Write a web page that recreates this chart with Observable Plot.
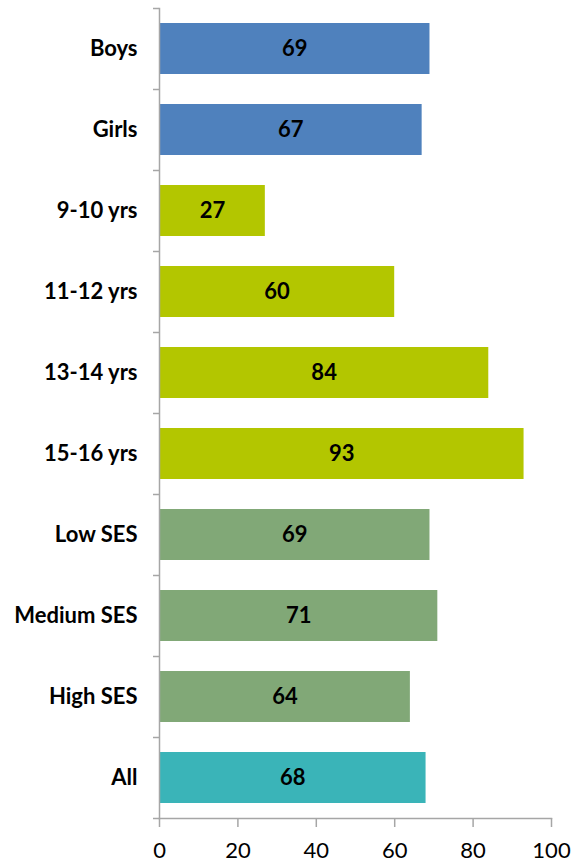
<!DOCTYPE html>
<html>
<head>
<meta charset="utf-8">
<script src="https://cdn.jsdelivr.net/npm/d3@7"></script>
<script src="https://cdn.jsdelivr.net/npm/@observablehq/plot@0.6"></script>
<style>
  html, body { margin: 0; padding: 0; background: #fff; }
</style>
</head>
<body>
<div id="chart"></div>
<script>
const categories = ["Boys", "Girls", "9-10 yrs", "11-12 yrs", "13-14 yrs", "15-16 yrs", "Low SES", "Medium SES", "High SES", "All"];
const values = [69, 67, 27, 60, 84, 93, 69, 71, 64, 68];
const groups = ["gender", "gender", "age", "age", "age", "age", "ses", "ses", "ses", "all"];
const groupNames = ["gender", "age", "ses", "all"];
const groupColors = ["#4F81BD", "#B3C600", "#81A877", "#3AB4B8"];
const xTicks = [0, 20, 40, 60, 80, 100];

const data = categories.map((c, i) => ({category: c, value: values[i], group: groups[i]}));

const W = 581, H = 866;
const mT = 8, mB = 48;
const step = (H - mT - mB) / categories.length;
const axisColor = "#A6A6A6";

const chart = Plot.plot({
  width: W,
  height: H,
  marginLeft: 159,
  marginRight: 30,
  marginTop: mT,
  marginBottom: mB,
  style: {fontFamily: "Lato, sans-serif", color: "#000", background: "#fff"},
  x: {domain: [0, 100], ticks: xTicks, label: null},
  y: {domain: categories, paddingInner: 0.37, paddingOuter: 0.185, label: null},
  color: {domain: groupNames, range: groupColors},
  marks: [
    Plot.barX(data, {x: "value", y: "category", fill: "group"}),
    Plot.text(data, {x: d => d.value / 2, y: "category", text: d => String(d.value), fontSize: 22, fontWeight: "bold", fill: "#000"}),
    Plot.axisY({tickSize: 0, tickPadding: 22, fontSize: 22, fontWeight: "bold", fill: "#000", label: null}),
    Plot.axisY({text: null, tickSize: 6, dy: -step / 2, stroke: axisColor, strokeWidth: 1.5, strokeOpacity: 1, label: null}),
    Plot.axisY([categories[categories.length - 1]], {text: null, tickSize: 6, dy: step / 2, stroke: axisColor, strokeWidth: 1.5, strokeOpacity: 1, label: null}),
    Plot.axisX({ticks: xTicks, tickSize: 9, tickPadding: 15, fontSize: 22, stroke: axisColor, strokeWidth: 1.5, strokeOpacity: 1, fill: "#000", label: null}),
    Plot.frame({anchor: "left", stroke: axisColor, strokeWidth: 1.5}),
    Plot.frame({anchor: "bottom", stroke: axisColor, strokeWidth: 1.5})
  ]
});
document.getElementById("chart").appendChild(chart);
</script>
</body>
</html>
